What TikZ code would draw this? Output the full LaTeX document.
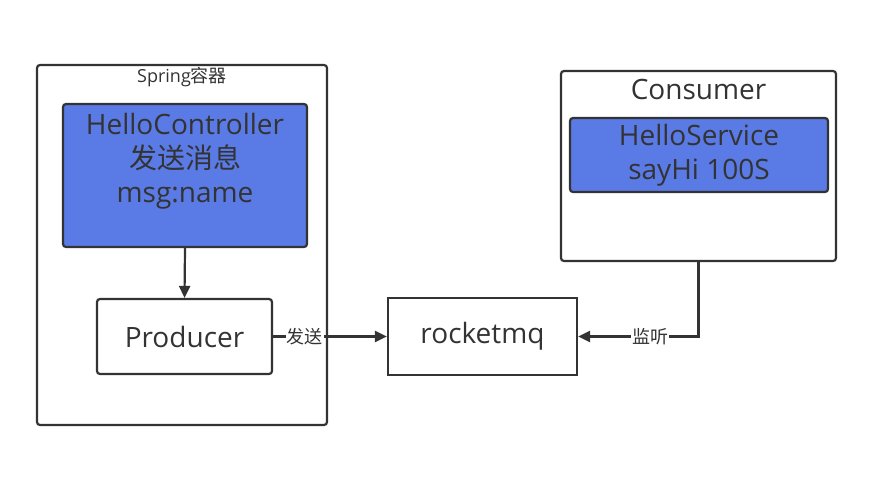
\documentclass[tikz,border=0pt]{standalone}
\usepackage{fontspec}
\setmainfont{Open Sans}
\newfontfamily\cjk{Noto Sans CJK SC}
\usetikzlibrary{arrows.meta}
\definecolor{linec}{HTML}{333333}
\definecolor{bluefill}{HTML}{5A7AE6}
\begin{document}
\begin{tikzpicture}[x=1pt,y=-1pt,
  box/.style={draw=linec, line width=2.2pt, rounded corners=3pt},
  bluebox/.style={box, fill=bluefill},
  big/.style={text=linec, align=center, font=\fontsize{28}{34}\selectfont},
  link/.style={draw=linec, line width=2.2pt, -{Triangle[length=12pt,width=11pt]}},
  tag/.style={fill=white, inner sep=1pt, text=linec, font=\fontsize{18}{20}\selectfont\cjk}]
\useasboundingbox (0,0) rectangle (870,485);
% spring container
\node[box, minimum width=290pt, minimum height=360pt] (spring) at (182,245) {};
\node[text=linec, font=\fontsize{18}{20}\selectfont] (springtitle) at (182,77) {Spring{\cjk 容器}};
\node[bluebox, minimum width=244pt, minimum height=143pt] (ctrl) at (185,175.5) {};
\node[big] (ctrltext) at (185,161) {HelloController\\{\cjk 发送消息}\\msg:name};
\node[box, minimum width=175pt, minimum height=75pt, big] (prod) at (184.5,336.5) {Producer};
% broker
\node[box, rounded corners=0pt, minimum width=189pt, minimum height=77pt, big] (mq) at (482.5,336.5) {rocketmq};
% consumer
\node[box, minimum width=275pt, minimum height=190pt] (cons) at (698.5,166) {};
\node[big] (constitle) at (698.5,89) {Consumer};
\node[bluebox, minimum width=258pt, minimum height=74pt, big] (svc) at (699,155) {HelloService\\sayHi 100S};
% links
\draw[link] (ctrl.south) -- (prod.north);
\draw[link] (prod.east) -- node[tag, pos=0.28]{发送} (mq.west);
\draw[link] (cons.south) |- node[tag, pos=0.7]{监听} (mq.east);
\end{tikzpicture}
\end{document}
